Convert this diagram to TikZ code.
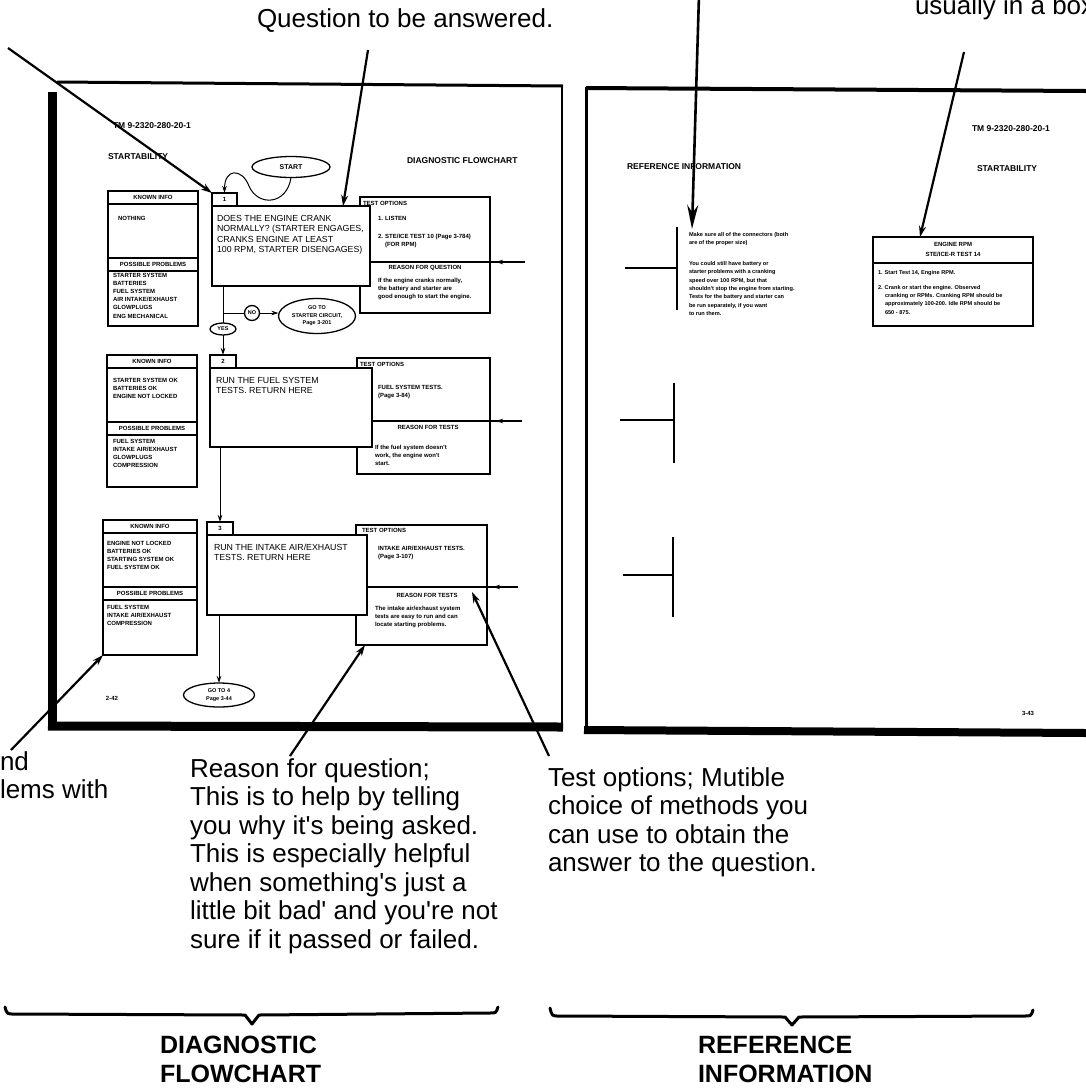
\documentclass[tikz,border=0pt]{standalone}
\usepackage{fontspec}
\setmainfont{Liberation Sans}
\usetikzlibrary{arrows.meta,shapes.geometric,positioning,calc}

\begin{document}
\begin{tikzpicture}[
    x=1pt, y=-1pt,
    every node/.style={inner sep=0pt, outer sep=0pt},
    note/.style={font=\fontsize{26}{28.5}\selectfont, align=left, anchor=base west},
    part/.style={font=\fontsize{25}{29}\selectfont\bfseries, align=left, anchor=base west},
    lead/.style={-{Stealth[length=11pt,width=7pt]}, line width=2.2pt},
    biglead/.style={-{Stealth[length=24pt,width=11pt]}, line width=2.6pt},
    flow/.style={-{Stealth[length=7pt,width=4.5pt]}, line width=1pt},
    hdr/.style={font=\fontsize{8.5}{10}\selectfont\bfseries, anchor=west},
    info/.style={draw, line width=1.3pt, fill=white},
    qbox/.style={draw, line width=2.6pt, fill=white},
    tabbox/.style={draw, line width=1.3pt, fill=white, font=\fontsize{6}{7}\selectfont\bfseries},
    oval/.style={draw, ellipse, line width=1.3pt, fill=white, align=center, font=\fontsize{5.5}{7.5}\selectfont\bfseries},
    boxhead/.style={font=\fontsize{6}{7}\selectfont\bfseries},
    smalltxt/.style={font=\fontsize{6}{8.2}\selectfont\bfseries, align=left, anchor=base west},
    qtext/.style={font=\fontsize{8.8}{10.5}\selectfont, align=left, anchor=base west},
    finetxt/.style={font=\fontsize{5.6}{8.3}\selectfont\bfseries, align=left, anchor=base west}
]
\useasboundingbox (0,0) rectangle (1086,1088);
\clip (0,0) rectangle (1086,1088);
\fill[white] (0,0) rectangle (1086,1088);

% page frames
\draw[line width=3pt] (57,82) -- (563,86);
\draw[line width=9pt] (52,92) -- (52,722);
\draw[line width=2.5pt] (562,85) -- (562,726);
\draw[line width=9pt] (48,726) -- (563,727);
\draw[line width=3pt] (586,87) -- (586,731);
\draw[line width=4pt] (586,88) -- (1086,91);
\draw[line width=8pt] (584,730) -- (1086,733);

% left page headings
\node[hdr] (tml) at (113,126) {TM 9-2320-280-20-1};
\node[hdr] (stl) at (108,157) {STARTABILITY};
\node[hdr] (dfl) at (407,161) {DIAGNOSTIC FLOWCHART};

% known info boxes
\node[info, minimum width=90pt, minimum height=135pt] (K1) at (153,258.5) {};
\node[info, minimum width=90pt, minimum height=132pt] (K2) at (152,421) {};
\node[info, minimum width=94pt, minimum height=135pt] (K3) at (150,587.5) {};
\foreach \k in {K1,K2,K3} {
  \draw[line width=1.3pt] ($(\k.north west)+(0,13)$) -- ($(\k.north east)+(0,13)$);
  \draw[line width=1.3pt] ($(\k.north west)+(0,67)$) -- ($(\k.north east)+(0,67)$);
  \draw[line width=1.3pt] ($(\k.north west)+(0,80)$) -- ($(\k.north east)+(0,80)$);
  \node[boxhead] (\k-ki) at ($(\k.north)+(0,6.5)$) {KNOWN INFO};
  \node[boxhead] (\k-pp) at ($(\k.north)+(0,73.5)$) {POSSIBLE PROBLEMS};
}
% multi-line texts: base is the last line
\node[smalltxt] (k1a) at (118,220) {NOTHING};
\node[smalltxt] (k1b) at (113,318) {STARTER SYSTEM\\BATTERIES\\FUEL SYSTEM\\AIR INTAKE/EXHAUST\\GLOWPLUGS\\ENG MECHANICAL};
\node[smalltxt] (k2a) at (113,398.4) {STARTER SYSTEM OK\\BATTERIES OK\\ENGINE NOT LOCKED};
\node[smalltxt] (k2b) at (113,467.6) {FUEL SYSTEM\\INTAKE AIR/EXHAUST\\GLOWPLUGS\\COMPRESSION};
\node[smalltxt] (k3a) at (107,569.6) {ENGINE NOT LOCKED\\BATTERIES OK\\STARTING SYSTEM OK\\FUEL SYSTEM OK};
\node[smalltxt] (k3b) at (107,625.4) {FUEL SYSTEM\\INTAKE AIR/EXHAUST\\COMPRESSION};

% test option boxes
\node[info, minimum width=130pt, minimum height=116pt] (T1) at (425,255) {};
\node[info, minimum width=133pt, minimum height=116pt] (T2) at (423.5,416) {};
\node[info, minimum width=131pt, minimum height=120pt] (T3) at (421.5,585) {};

% question boxes
\node[qbox, minimum width=158pt, minimum height=80pt] (Q1) at (291,246) {};
\node[qbox, minimum width=162pt, minimum height=79pt] (Q2) at (291,407.5) {};
\node[qbox, minimum width=160pt, minimum height=80pt] (Q3) at (287,575) {};
\node[tabbox, minimum width=25pt, minimum height=13pt] (tab1) at (224.5,199.5) {1};
\node[tabbox, minimum width=26pt, minimum height=13pt] (tab2) at (223,361.5) {2};
\node[tabbox, minimum width=26pt, minimum height=13pt] (tab3) at (220,528.5) {3};

\node[qtext] (q1t) at (217,252.5) {DOES THE ENGINE CRANK\\NORMALLY? (STARTER ENGAGES,\\CRANKS ENGINE AT LEAST\\100 RPM, STARTER DISENGAGES)};
\node[qtext] (q2t) at (216,393.5) {RUN THE FUEL SYSTEM\\TESTS. RETURN HERE};
\node[qtext] (q3t) at (214,560.5) {RUN THE INTAKE AIR/EXHAUST\\TESTS. RETURN HERE};

% dividers with arrows from the reference page
\coordinate (r1) at (525,262);
\coordinate (r2) at (522,421);
\coordinate (r3) at (518,587);
\draw[line width=1.3pt] (Q1.east |- r1) -- (r1);
\draw[line width=1.3pt] (Q2.east |- r2) -- (r2);
\draw[line width=1.3pt] (Q3.east |- r3) -- (r3);
\draw[flow] (r1) -- ($(T1.east |- r1)+(6,0)$);
\draw[flow] (r2) -- ($(T2.east |- r2)+(6,0)$);
\draw[flow] (r3) -- ($(T3.east |- r3)+(6,0)$);

\node[boxhead, anchor=west] (t1h) at (363,203) {TEST OPTIONS};
\node[smalltxt] (t1a) at (378,246.4) {1. LISTEN\\[10pt]2. STE/ICE TEST 10 (Page 3-784)\\\hspace*{7pt}(FOR RPM)};
\node[boxhead] (t1r) at (425,268) {REASON FOR QUESTION};
\node[smalltxt] (t1b) at (378,298.4) {If the engine cranks normally,\\the battery and starter are\\good enough to start the engine.};

\node[boxhead, anchor=west] (t2h) at (360,364) {TEST OPTIONS};
\node[smalltxt] (t2a) at (378,397.2) {FUEL SYSTEM TESTS.\\(Page 3-84)};
\node[boxhead] (t2r) at (428,427) {REASON FOR TESTS};
\node[smalltxt] (t2b) at (375,465.4) {If the fuel system doesn\textquotesingle t\\work, the engine won\textquotesingle t\\start.};

\node[boxhead, anchor=west] (t3h) at (362,530) {TEST OPTIONS};
\node[smalltxt] (t3a) at (378,558.2) {INTAKE AIR/EXHAUST TESTS.\\(Page 3-107)};
\node[boxhead] (t3r) at (427,595) {REASON FOR TESTS};
\node[smalltxt] (t3b) at (375,626.4) {The intake air/exhaust system\\tests are easy to run and can\\locate starting problems.};

% flow
\node[oval, minimum width=78pt, minimum height=21pt, font=\fontsize{7}{8}\selectfont\bfseries] (start) at (291,167) {START};
\node[oval, minimum width=26pt, minimum height=12pt] (yes) at (223,329) {YES};
\node[draw, circle, line width=1.3pt, fill=white, minimum size=15pt, font=\fontsize{5.5}{6}\selectfont\bfseries] (no) at (252,313) {NO};
\node[oval, minimum width=77pt, minimum height=35pt] (go1) at (317,316) {GO TO\\STARTER CIRCUIT,\\Page 3-201};
\node[oval, minimum width=71pt, minimum height=24pt] (go4) at (219,695) {GO TO 4\\Page 3-44};
\coordinate (j1) at (223,313);

\draw[flow] (start.south) .. controls (287,205) and (258,207) .. (249,186)
            .. controls (242,168) and (224.5,168) .. (tab1.north);
\draw[line width=1pt] (tab2.north |- Q1.south) -- (yes.north);
\draw[flow] (yes.south) -- (tab2.north);
\draw[line width=1pt] (j1) -- (no.west);
\draw[flow] (no.east) -- (no.east -| go1.west);
\draw[flow] (tab3.north |- Q2.south) -- (tab3.north);
\draw[flow] (go4.north |- Q3.south) -- (go4.north);

\node[boxhead] (pl) at (112,698) {2-42};

% right page
\node[hdr] (tmr) at (972,129) {TM 9-2320-280-20-1};
\node[hdr] (str) at (977,169) {STARTABILITY};
\node[hdr] (rir) at (627,167) {REFERENCE INFORMATION};

\draw[line width=2.6pt] (677,227) -- (677,310);
\draw[line width=2.6pt] (625,268) -- (677,268);
\draw[line width=2.6pt] (674,383) -- (674,463);
\draw[line width=2.6pt] (620,420) -- (674,420);
\draw[line width=2.6pt] (673,537) -- (673,617);
\draw[line width=2.6pt] (623,575) -- (673,575);

\node[finetxt] (refa) at (689,315.4) {Make sure all of the connectors (both\\are of the proper size)\\[13pt]You could still have battery or\\starter problems with a cranking\\speed over 100 RPM, but that\\shouldn\textquotesingle t stop the engine from starting.\\Tests for the battery and starter can\\be run separately, if you want\\to run them.};

\node[info, minimum width=160pt, minimum height=89pt] (rpm) at (953,281.5) {};
\draw[line width=1.3pt] ($(rpm.north west)+(0,26)$) -- ($(rpm.north east)+(0,26)$);
\node[boxhead, align=center, font=\fontsize{6}{10}\selectfont\bfseries] (rpmh) at (953,249) {ENGINE RPM\\STE/ICE-R TEST 14};
\node[finetxt] (rpmt) at (878,314.2) {1. Start Test 14, Engine RPM.\\[7pt]2. Crank or start the engine. Observed\\\hspace*{7pt}cranking or RPMs. Cranking RPM should be\\\hspace*{7pt}approximately 100-200. Idle RPM should be\\\hspace*{7pt}650 - 875.};

\node[boxhead] (pr) at (1028,713) {3-43};

% notes
\node[note] (qnote) at (257,27) {Question to be answered.};
\node[note] (bnote) at (915,14) {usually in a box};
\node[note] (knote) at (0,798.5) {nd\\lems with};
\node[note] (rnote) at (190,948) {Reason for question;\\This is to help by telling\\you why it\textquotesingle s being asked.\\This is especially helpful\\when something\textquotesingle s just a\\little bit bad\textquotesingle{} and you\textquotesingle re not\\sure if it passed or failed.};
\node[note] (tnote) at (548,871.5) {Test options; Mutible\\choice of methods you\\can use to obtain the\\answer to the question.};

\coordinate (la) at (8,48);
\coordinate (lb) at (368,50);
\coordinate (lc) at (699,-5);
\coordinate (ld) at (964,52);
\coordinate (le) at (290,756);
\coordinate (lf) at (549,756);
\coordinate (lg) at (11,750);
\draw[lead] (la) -- (tab1.north west);
\draw[lead] (lb) -- ($(Q1.north)+(52,0)$);
\draw[biglead] (lc) -- ($(refa.north west)+(3,-3)$);
\draw[lead] (ld) -- ($(rpm.north)+(-33,0)$);
\draw[lead] (le) -- ($(T3.south west)+(9,0)$);
\draw[lead] (lf) -- ($(T3.north east)+(-15,67)$);
\draw[lead] (lg) -- (K3.south west);

% braces and parts
\draw[line width=3pt, line join=round, line cap=round] (5,1007) .. controls (7,1014) .. (14,1014)
    -- (245,1015) -- (252,1024) -- (259,1015) -- (490,1013) .. controls (496,1013) .. (498,1007);
\draw[line width=3pt, line join=round, line cap=round] (550,1008) .. controls (552,1016) .. (559,1016)
    -- (785,1017) -- (792,1025) -- (799,1017) -- (1025,1016) .. controls (1031,1016) .. (1033,1010);
\node[part] (dfc) at (160,1082) {DIAGNOSTIC\\FLOWCHART};
\node[part] (rfi) at (698,1082) {REFERENCE\\INFORMATION};
\end{tikzpicture}
\end{document}
